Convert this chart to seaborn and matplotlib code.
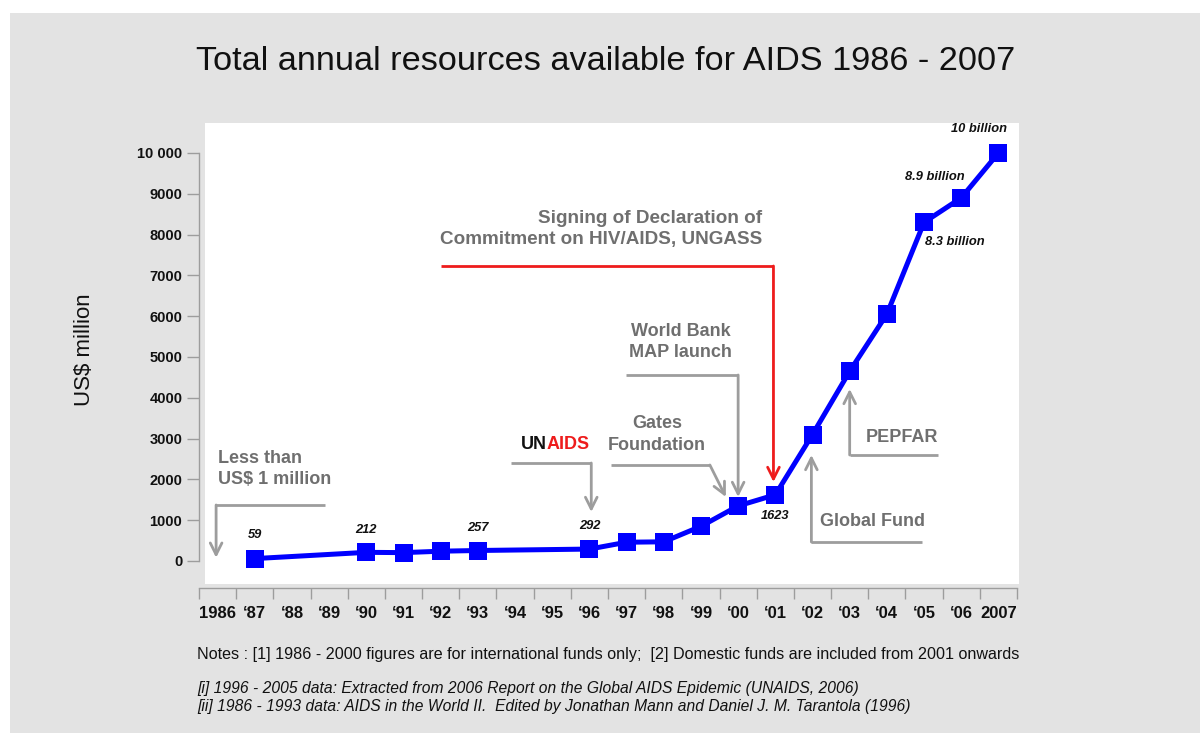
import numpy as np
import pandas as pd
import matplotlib
matplotlib.use("Agg")
import matplotlib.pyplot as plt
from matplotlib import font_manager
from matplotlib.patches import Rectangle
import seaborn as sns

# ---------------- data ----------------
years = [1987, 1990, 1991, 1992, 1993, 1996, 1997, 1998, 1999, 2000,
         2001, 2002, 2003, 2004, 2005, 2006, 2007]
resources = [59, 212, 205, 240, 257, 292, 460, 470, 850, 1350,
             1623, 3100, 4650, 6050, 8300, 8900, 10000]

label_years = [1987, 1990, 1993, 1996, 2001, 2005, 2006, 2007]
label_texts = ["59", "212", "257", "292", "1623", "8.3 billion", "8.9 billion", "10 billion"]

tick_years = list(range(1986, 2008))
tick_labels = ["1986"] + ["\u2018%02d" % (y % 100) for y in range(1987, 2007)] + ["2007"]

y_ticks = [0, 1000, 2000, 3000, 4000, 5000, 6000, 7000, 8000, 9000, 10000]
y_tick_labels = ["0", "1000", "2000", "3000", "4000", "5000", "6000", "7000", "8000", "9000", "10 000"]

df = pd.DataFrame({"year": years, "resources": resources})

# ---------------- style ----------------
sns.set_theme(style="white")
names = {f.name for f in font_manager.fontManager.ttflist}
NARROW = "Liberation Sans Narrow" if "Liberation Sans Narrow" in names else "Liberation Sans"
plt.rcParams["font.family"] = ["Liberation Sans", "DejaVu Sans"]

GRAY_BG = "#e3e3e3"
ANN_GRAY = "#6f6f6f"
LINE_GRAY = "#9d9d9d"
RED = "#ee1c1c"

fig = plt.figure(figsize=(12, 7.33), dpi=100)
fig.patch.set_facecolor("white")
fig.patches.append(Rectangle((10 / 1200, 0), 1 - 10 / 1200, (733 - 13) / 733,
                             transform=fig.transFigure, facecolor=GRAY_BG,
                             edgecolor="none", zorder=-10))
fig.patches.append(Rectangle((205 / 1200, (733 - 584) / 733), (1019 - 205) / 1200, (584 - 123) / 733,
                             transform=fig.transFigure, facecolor="white",
                             edgecolor="none", zorder=-9))

ax = fig.add_axes([199 / 1200, (733 - 588) / 733, (1017 - 199) / 1200, (588 - 123) / 733])
ax.set_facecolor("none")

sns.lineplot(data=df, x="year", y="resources", ax=ax, color="#0000ff",
             linewidth=3.6, marker="s", markersize=12.5, markeredgewidth=0,
             markerfacecolor="#0000ff", zorder=5)

ax.set_xlim(1985.5, 2007.5)
ax.set_ylim(-662, 10735)

# spines
for s in ["top", "right"]:
    ax.spines[s].set_visible(False)
ax.spines["left"].set_bounds(0, 10000)
ax.spines["left"].set_color(LINE_GRAY)
ax.spines["left"].set_linewidth(1)
ax.spines["bottom"].set_color(LINE_GRAY)
ax.spines["bottom"].set_linewidth(1)

# y ticks
ax.set_yticks(y_ticks)
ax.set_yticklabels(y_tick_labels, fontsize=10.5, fontweight="bold", color="#111111")
ax.tick_params(axis="y", which="major", direction="out", length=8.5, width=1,
               color=LINE_GRAY, pad=3.5, left=True)

# x ticks: boundaries as major ticks, year labels on minor ticks
ax.set_xticks(np.arange(1985.5, 2008.0, 1.0))
ax.set_xticklabels([])
ax.set_xticks(tick_years, minor=True)
ax.set_xticklabels(tick_labels, minor=True, fontsize=12, fontweight="bold",
                   family=[NARROW, "DejaVu Sans"], color="#111111")
ax.tick_params(axis="x", which="major", direction="out", length=8, width=1,
               color=LINE_GRAY, bottom=True)
ax.tick_params(axis="x", which="minor", length=0, pad=13, bottom=True)
ax.set_xlabel("")
ax.set_ylabel("")

# data labels
offsets = {1987: (0, 17), 1990: (0, 16), 1993: (0, 16), 1996: (0, 16.5),
           2001: (0, -15), 2005: (22, -14.5), 2006: (-19, 15), 2007: (-14, 17)}
for yr, txt in zip(label_years, label_texts):
    val = resources[years.index(yr)]
    ax.annotate(txt, (yr, val), xytext=offsets[yr], textcoords="offset points",
                ha="center", va="center", fontsize=9.3, fontweight="bold",
                fontstyle="italic", color="#111111", zorder=6)

# ---------------- annotations ----------------
ann_kw = dict(fontsize=13, fontweight="bold", color=ANN_GRAY)
LS = 1.33
glw = 2.0
arrow_gray = dict(arrowstyle="->,head_length=0.7,head_width=0.35", color=LINE_GRAY, lw=glw,
                  shrinkA=0, shrinkB=0)
arrow_red = dict(arrowstyle="->,head_length=0.7,head_width=0.35", color=RED, lw=glw,
                 shrinkA=0, shrinkB=0)

# Less than US$ 1 million
ax.text(1986.01, 2255, "Less than\nUS$ 1 million", ha="left", va="center",
        linespacing=LS, **ann_kw)
ax.plot([1988.89, 1985.96], [1373, 1373], color=LINE_GRAY, lw=glw, solid_capstyle="butt")
ax.annotate("", xy=(1985.96, 80), xytext=(1985.96, 1373), arrowprops=arrow_gray)

# UNAIDS
ax.text(1994.86, 2843, "UN", ha="right", va="center", fontsize=13, fontweight="bold", color="#111111")
ax.text(1994.86, 2843, "AIDS", ha="left", va="center", fontsize=13, fontweight="bold", color=RED)
ax.plot([1993.89, 1996.05], [2402, 2402], color=LINE_GRAY, lw=glw, solid_capstyle="butt")
ax.annotate("", xy=(1996.05, 1201), xytext=(1996.05, 2402), arrowprops=arrow_gray)

# Gates Foundation
ax.text(1997.82, 3100, "Gates\nFoundation", ha="center", va="center",
        linespacing=LS, **ann_kw)
ax.plot([1996.58, 1999.24], [2353, 2353], color=LINE_GRAY, lw=glw, solid_capstyle="butt")
ax.annotate("", xy=(1999.67, 1569), xytext=(1999.24, 2353), arrowprops=arrow_gray)

# World Bank MAP launch
ax.text(1998.46, 5368, "World Bank\nMAP launch", ha="center", va="center",
        linespacing=LS, **ann_kw)
ax.plot([1996.98, 2000.0], [4559, 4559], color=LINE_GRAY, lw=glw, solid_capstyle="butt")
ax.annotate("", xy=(2000.0, 1569), xytext=(2000.0, 4559), arrowprops=arrow_gray)

# UNGASS
ax.text(2000.64, 8137, "Signing of Declaration of\nCommitment on HIV/AIDS, UNGASS",
        ha="right", va="center", linespacing=1.3, ma="right",
        fontsize=13.6, fontweight="bold", color=ANN_GRAY)
ax.plot([1992.01, 2000.95], [7230, 7230], color=RED, lw=glw, solid_capstyle="butt")
ax.annotate("", xy=(2000.95, 1936), xytext=(2000.95, 7230), arrowprops=arrow_red)

# Global Fund
ax.text(2002.2, 956, "Global Fund", ha="left", va="center", **ann_kw)
ax.plot([2004.95, 2001.97], [466, 466], color=LINE_GRAY, lw=glw, solid_capstyle="butt")
ax.annotate("", xy=(2001.97, 2598), xytext=(2001.97, 466), arrowprops=arrow_gray)

# PEPFAR
ax.text(2003.44, 3015, "PEPFAR", ha="left", va="center", **ann_kw)
ax.plot([2005.38, 2003.0], [2598, 2598], color=LINE_GRAY, lw=glw, solid_capstyle="butt")
ax.annotate("", xy=(2003.0, 4216), xytext=(2003.0, 2598), arrowprops=arrow_gray)

# ---------------- figure texts ----------------
fig.text(606 / 1200, (733 - 62) / 733, "Total annual resources available for AIDS 1986 - 2007",
         ha="center", va="center", fontsize=24.7, color="#111111")
fig.text(85 / 1200, (733 - 350) / 733, "US$ million", rotation=90, ha="center", va="center",
         fontsize=16, color="#111111")
fig.text(197 / 1200, (733 - 655) / 733,
         "Notes : [1] 1986 - 2000 figures are for international funds only;  [2] Domestic funds are included from 2001 onwards",
         ha="left", va="center", fontsize=11.6, family=[NARROW, "DejaVu Sans"], color="#111111")
fig.text(197 / 1200, (733 - 688) / 733,
         "[i] 1996 - 2005 data: Extracted from 2006 Report on the Global AIDS Epidemic (UNAIDS, 2006)",
         ha="left", va="center", fontsize=11.25, fontstyle="italic", family=[NARROW, "DejaVu Sans"],
         color="#111111")
fig.text(197 / 1200, (733 - 706) / 733,
         "[ii] 1986 - 1993 data: AIDS in the World II.  Edited by Jonathan Mann and Daniel J. M. Tarantola (1996)",
         ha="left", va="center", fontsize=11.25, fontstyle="italic", family=[NARROW, "DejaVu Sans"],
         color="#111111")

fig.savefig("out.png", dpi=100, facecolor=fig.get_facecolor())
